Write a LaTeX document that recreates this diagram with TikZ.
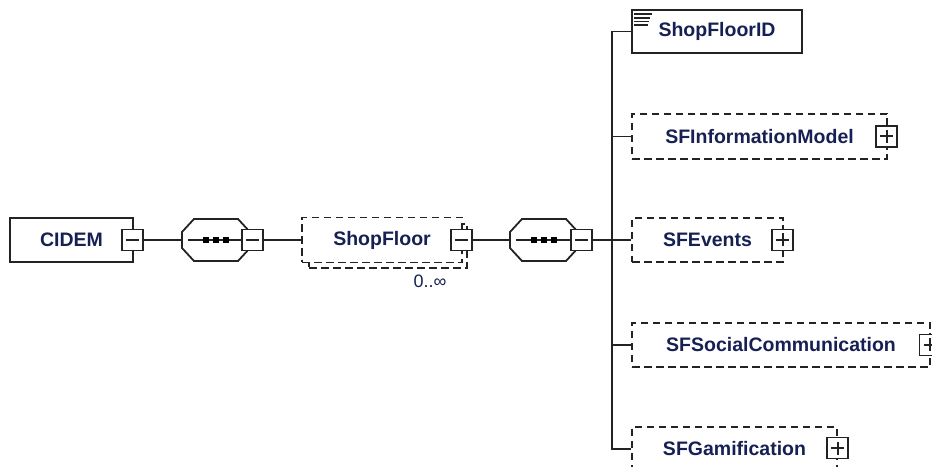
\documentclass[tikz,border=0pt]{standalone}
\usepackage{fontspec}
\setmainfont{Liberation Sans}
\usetikzlibrary{positioning}
\definecolor{xsdnavy}{RGB}{22,32,82}
\definecolor{xsdline}{RGB}{35,35,35}

\begin{document}
\begin{tikzpicture}[x=1bp,y=-1bp,
  elem/.style={rectangle,draw=xsdline,fill=white,line width=1.8bp,
               font=\fontsize{19.5bp}{22bp}\selectfont\bfseries,text=xsdnavy,
               minimum height=44bp,inner sep=0pt},
  optelem/.style={elem,dash pattern=on 7.5bp off 4.5bp},
  tog/.style={rectangle,draw=xsdline,fill=white,line width=1.8bp,
              minimum size=21bp,inner sep=0pt},
  minus/.style={tog,path picture={\draw[xsdline,line width=2bp]
      ([xshift=-6.5bp]path picture bounding box.center) --
      ([xshift=6.5bp]path picture bounding box.center);}},
  plus/.style={tog,path picture={\draw[xsdline,line width=2bp]
      ([xshift=-6.5bp]path picture bounding box.center) --
      ([xshift=6.5bp]path picture bounding box.center)
      ([yshift=-6.5bp]path picture bounding box.center) --
      ([yshift=6.5bp]path picture bounding box.center);}},
  seq/.style={rectangle,minimum width=68bp,minimum height=42bp,inner sep=0pt,outer sep=0pt},
  seqdot/.style={rectangle,fill=black,minimum size=6bp,inner sep=0pt},
  wire/.style={xsdline,line width=1.8bp}
]
\clip (0,0) rectangle (932,467);

% root element
\node[elem,minimum width=123bp] (cidem) at (71.5,240) {CIDEM};
\node[minus] (cidem-tog) at (132.5,240) {};

% sequence compositors
\node[seq] (seq1) at (216,240) {};
\node[seq] (seq2) at (544,240) {};
\foreach \s in {seq1,seq2}{
  \draw[wire] ([shift={(-34,-8)}]\s.center) -- ([shift={(-22,-21)}]\s.center)
    -- ([shift={(22,-21)}]\s.center) -- ([shift={(34,-8)}]\s.center)
    -- ([shift={(34,8)}]\s.center) -- ([shift={(22,21)}]\s.center)
    -- ([shift={(-22,21)}]\s.center) -- ([shift={(-34,8)}]\s.center) -- cycle;
  \draw[wire] ([xshift=6bp]\s.west) -- ([xshift=27bp]\s.center);
  \foreach \dx in {-10,0,10}
    \node[seqdot] at ([xshift=\dx bp]\s.center) {};
}
\node[minus] (seq1-tog) at (252.5,240) {};
\node[minus] (seq2-tog) at (581.5,240) {};

% ShopFloor (0..unbounded)
\node[optelem,minimum width=158bp] (sf-shadow) at (388,246) {};
\node[optelem,minimum width=160bp,minimum height=45bp] (sf) at (382,240) {ShopFloor};
\node[minus] (sf-tog) at (461.5,240) {};
\node[font=\fontsize{18bp}{20bp}\selectfont,text=xsdnavy] (sf-occ) at (430,281) {0..∞};

\draw[wire] (cidem-tog) -- (seq1.west);
\draw[wire] (seq1-tog) -- (sf.west);
\draw[wire] (sf-tog) -- (seq2.west);
\coordinate (bus) at (612,240);
\draw[wire] (seq2-tog) -- (bus);

% children
\node[elem,minimum width=170bp,minimum height=43bp] (sfid) at (717,31.5) {ShopFloorID};
\foreach \i/\l in {0/18,1/16,2/15,3/14}
  \draw[xsdline,line width=1.8bp] ([shift={(3,5+3.7*\i)}]sfid.north west) -- ++(\l,0);

\node[optelem,minimum width=255bp,minimum height=45bp] (sfinfo) at (759.5,136.5) {SFInformationModel};
\node[plus] (sfinfo-tog) at (886.5,136.5) {};

\node[optelem,minimum width=151bp] (sfev) at (707.5,240) {SFEvents};
\node[plus] (sfev-tog) at (782.5,240) {};

\node[optelem,minimum width=298bp] (sfsoc) at (781,345) {SFSocialCommunication};
\node[plus] (sfsoc-tog) at (930,345) {};

\node[optelem,minimum width=205bp] (sfgam) at (734.5,449) {SFGamification};
\node[plus] (sfgam-tog) at (837.5,448) {};

\foreach \c in {sfid,sfinfo,sfev,sfsoc,sfgam}
  \draw[wire] (\c.west) -| (bus);
\end{tikzpicture}
\end{document}
